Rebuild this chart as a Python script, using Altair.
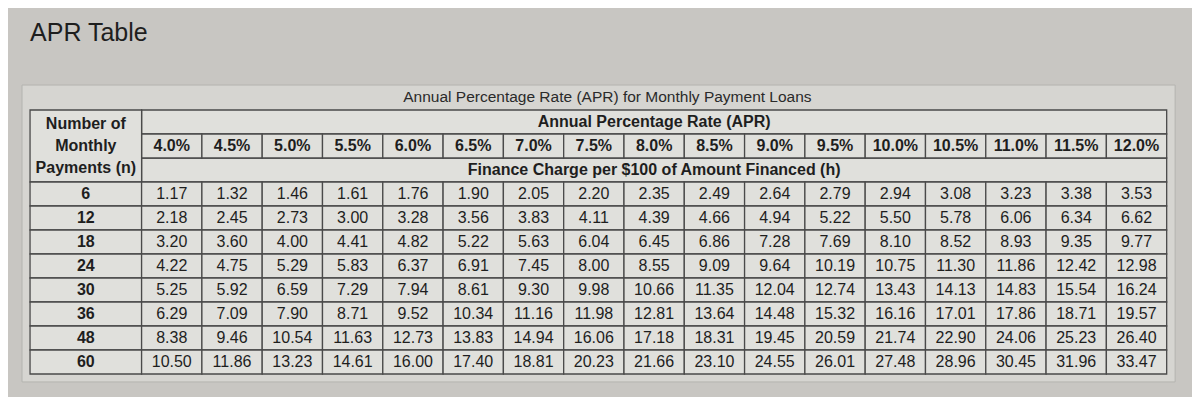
import altair as alt
import pandas as pd

# ---------------- data ----------------
apr_rates = ["4.0%", "4.5%", "5.0%", "5.5%", "6.0%", "6.5%", "7.0%", "7.5%", "8.0%",
             "8.5%", "9.0%", "9.5%", "10.0%", "10.5%", "11.0%", "11.5%", "12.0%"]
payments = [6, 12, 18, 24, 30, 36, 48, 60]

charge_6 = [1.17, 1.32, 1.46, 1.61, 1.76, 1.90, 2.05, 2.20, 2.35, 2.49, 2.64, 2.79, 2.94, 3.08, 3.23, 3.38, 3.53]
charge_12 = [2.18, 2.45, 2.73, 3.00, 3.28, 3.56, 3.83, 4.11, 4.39, 4.66, 4.94, 5.22, 5.50, 5.78, 6.06, 6.34, 6.62]
charge_18 = [3.20, 3.60, 4.00, 4.41, 4.82, 5.22, 5.63, 6.04, 6.45, 6.86, 7.28, 7.69, 8.10, 8.52, 8.93, 9.35, 9.77]
charge_24 = [4.22, 4.75, 5.29, 5.83, 6.37, 6.91, 7.45, 8.00, 8.55, 9.09, 9.64, 10.19, 10.75, 11.30, 11.86, 12.42, 12.98]
charge_30 = [5.25, 5.92, 6.59, 7.29, 7.94, 8.61, 9.30, 9.98, 10.66, 11.35, 12.04, 12.74, 13.43, 14.13, 14.83, 15.54, 16.24]
charge_36 = [6.29, 7.09, 7.90, 8.71, 9.52, 10.34, 11.16, 11.98, 12.81, 13.64, 14.48, 15.32, 16.16, 17.01, 17.86, 18.71, 19.57]
charge_48 = [8.38, 9.46, 10.54, 11.63, 12.73, 13.83, 14.94, 16.06, 17.18, 18.31, 19.45, 20.59, 21.74, 22.90, 24.06, 25.23, 26.40]
charge_60 = [10.50, 11.86, 13.23, 14.61, 16.00, 17.40, 18.81, 20.23, 21.66, 23.10, 24.55, 26.01, 27.48, 28.96, 30.45, 31.96, 33.47]
charges = [charge_6, charge_12, charge_18, charge_24, charge_30, charge_36, charge_48, charge_60]

page_title = "APR Table"
table_title = "Annual Percentage Rate (APR) for Monthly Payment Loans"
apr_header = "Annual Percentage Rate (APR)"
charge_header = "Finance Charge per $100 of Amount Financed (h)"
n_header = "Number of\nMonthly\nPayments (n)"

# ---------------- layout (grid units: one data column / one row) ----------------
LEFT_W = 1.85          # width of the label column, in data-column units
N_COLS = len(apr_rates)
HEAD_ROWS = 3

FONT = "Liberation Sans"
INK = "#1e1e1e"
LINE = "#4a4a4a"
CELL = "#e0e0dc"
PANEL = "#d6d5d1"
BG = "#c8c6c2"

xs = alt.Scale(domain=[-2.2156, 17.42], nice=False, zero=False)
ys = alt.Scale(domain=[-4.25, 11.958], nice=False, zero=False, reverse=True)


def X(f):
    return alt.X(f, type="quantitative", scale=xs, axis=None)


def Y(f):
    return alt.Y(f, type="quantitative", scale=ys, axis=None)


# data cells
cells = []
for k, n in enumerate(payments):
    for i, (rate, v) in enumerate(zip(apr_rates, charges[k])):
        cells.append(dict(n=n, rate=rate, value=v, c0=i, c1=i + 1,
                          r0=HEAD_ROWS + k, r1=HEAD_ROWS + k + 1,
                          cx=i + 0.5, cy=HEAD_ROWS + k + 0.5))
cells = pd.DataFrame(cells)

# row label cells
labels = pd.DataFrame([dict(label=str(n), c0=-LEFT_W, c1=0, r0=HEAD_ROWS + k,
                            r1=HEAD_ROWS + k + 1, cx=-LEFT_W / 2, cy=HEAD_ROWS + k + 0.5)
                       for k, n in enumerate(payments)])

# percentage header cells
pct = pd.DataFrame([dict(label=r, c0=i, c1=i + 1, r0=1, r1=2, cx=i + 0.5, cy=1.5)
                    for i, r in enumerate(apr_rates)])

# spanning header rows + left header cell
spans = pd.DataFrame([
    dict(label=apr_header, c0=0, c1=N_COLS, r0=0, r1=1, cx=N_COLS / 2, cy=0.5),
    dict(label=charge_header, c0=0, c1=N_COLS, r0=2, r1=3, cx=N_COLS / 2, cy=2.5),
])
nhead = pd.DataFrame([dict(label=n_header, c0=-LEFT_W, c1=0, r0=0, r1=HEAD_ROWS,
                           cx=-LEFT_W / 2, cy=HEAD_ROWS / 2)])

panel = pd.DataFrame([dict(c0=-1.983, c1=17.14, r0=-1.04, r1=11.33)])
titles = pd.DataFrame([dict(label=table_title, cx=(N_COLS - LEFT_W) / 2 + 0.15, cy=-0.55)])
ptitle = pd.DataFrame([dict(label=page_title, cx=-LEFT_W, cy=-3.2)])


def rects(df, fill, stroke=LINE, sw=1.3):
    return alt.Chart(df).mark_rect(fill=fill, stroke=stroke, strokeWidth=sw).encode(
        x=X("c0"), x2="c1", y=Y("r0"), y2="r1")


layers = [
    alt.Chart(panel).mark_rect(fill=PANEL, stroke="#b4b4b0", strokeWidth=1).encode(
        x=X("c0"), x2="c1", y=Y("r0"), y2="r1"),
    rects(spans, CELL),
    rects(pct, CELL),
    rects(nhead, CELL),
    rects(labels, CELL),
    rects(cells, CELL),
    alt.Chart(cells).mark_text(font=FONT, fontSize=16, color=INK).encode(
        x=X("cx"), y=Y("cy"), text=alt.Text("value:Q", format=".2f")),
    alt.Chart(labels).mark_text(font=FONT, fontSize=16, fontWeight="bold", color=INK).encode(
        x=X("cx"), y=Y("cy"), text="label:N"),
    alt.Chart(pct).mark_text(font=FONT, fontSize=16, fontWeight="bold", color=INK).encode(
        x=X("cx"), y=Y("cy"), text="label:N"),
    alt.Chart(spans).mark_text(font=FONT, fontSize=16, fontWeight="bold", color=INK).encode(
        x=X("cx"), y=Y("cy"), text="label:N"),
    alt.Chart(nhead).mark_text(font=FONT, fontSize=16, fontWeight="bold", color=INK,
                               lineBreak="\n", lineHeight=22, dy=-22).encode(
        x=X("cx"), y=Y("cy"), text="label:N"),
    alt.Chart(titles).mark_text(font=FONT, fontSize=15.5, color="#2a2a2a").encode(
        x=X("cx"), y=Y("cy"), text="label:N"),
    alt.Chart(ptitle).mark_text(font=FONT, fontSize=25, color=INK, align="left").encode(
        x=X("cx"), y=Y("cy"), text="label:N"),
]

chart = alt.layer(*layers).properties(
    width=1184, height=389, padding=0, background=BG,
    autosize=alt.AutoSizeParams(type="none"),
).configure_view(stroke=None)

chart.save("out.html", embed_options={"renderer": "svg", "actions": False})
